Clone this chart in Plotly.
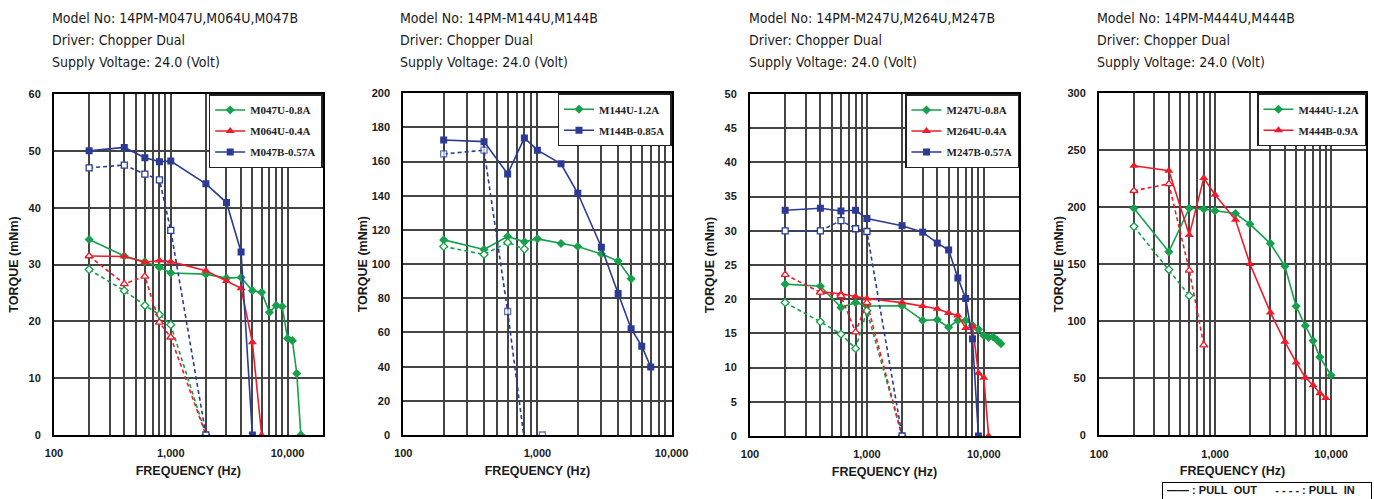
import plotly.graph_objects as go

# ---------------- data ----------------
# Chart 1: 14PM-M047U, M064U, M047B
c1_g_out_f = [200, 400, 600, 800, 1000, 2000, 3000, 4000, 5000, 6000, 7000, 8000, 9000, 10000, 11000, 12000, 13000]
c1_g_out_t = [34.4, 31.5, 30.5, 29.5, 28.5, 28.3, 27.6, 27.7, 25.4, 25.1, 21.6, 22.8, 22.6, 17.0, 16.6, 10.8, 0]
c1_g_in_f = [200, 400, 600, 800, 1000, 2000]
c1_g_in_t = [29.1, 25.4, 22.8, 21.2, 19.4, 0]
c1_r_out_f = [200, 400, 600, 800, 1000, 2000, 3000, 4000, 5000, 6000]
c1_r_out_t = [31.5, 31.4, 30.4, 30.7, 30.5, 28.9, 27.1, 25.8, 16.3, 0]
c1_r_in_f = [200, 400, 600, 800, 1000, 2000]
c1_r_in_t = [31.5, 26.6, 27.9, 19.8, 17.2, 0]
c1_b_out_f = [200, 400, 600, 800, 1000, 2000, 3000, 4000, 5000]
c1_b_out_t = [50.0, 50.6, 48.8, 48.1, 48.2, 44.2, 40.9, 32.2, 0]
c1_b_in_f = [200, 400, 600, 800, 1000, 2000]
c1_b_in_t = [47.0, 47.5, 45.9, 44.9, 36.0, 0]

# Chart 2: 14PM-M144U, M144B
c2_g_out_f = [200, 400, 600, 800, 1000, 1500, 2000, 3000, 4000, 5000]
c2_g_out_t = [114.2, 108.6, 116.2, 113.1, 114.8, 112.1, 110.3, 106.0, 101.8, 91.4]
c2_g_in_f = [200, 400, 600, 800]
c2_g_in_t = [110.3, 105.7, 112.7, 108.8]
c2_b_out_f = [200, 400, 600, 800, 1000, 1500, 2000, 3000, 4000, 5000, 6000, 7000]
c2_b_out_t = [172.7, 171.7, 152.8, 173.9, 166.7, 158.7, 141.5, 109.9, 82.8, 62.2, 52.0, 39.8]
c2_b_in_f = [200, 400, 600, 790, None, 1090]
c2_b_in_t = [164.5, 166.7, 72.3, 0, None, 0]
c2_b_in_marker = [True, True, True, False, False, True]

# Chart 3: 14PM-M247U, M264U, M247B
c3_g_out_f = [200, 400, 600, 800, 1000, 2000, 3000, 4000, 5000, 6000, 7000, 8000, 9000, 10000, 11000, 12000, 13000, 14000]
c3_g_out_t = [22.2, 21.9, 18.8, 19.5, 19.0, 19.05, 16.9, 17.0, 15.9, 16.9, 16.9, 16.2, 15.6, 14.7, 14.4, 14.5, 14.0, 13.5]
c3_g_in_f = [200, 400, 600, 800, 1000, 2000]
c3_g_in_t = [19.5, 16.7, 14.9, 12.8, 18.3, 0]
c3_r_out_f = [400, 600, 800, 1000, 2000, 3000, 4000, 5000, 6000, 7000, 8000, 9000, 10000, 11000]
c3_r_out_t = [21.1, 20.8, 20.4, 20.1, 19.5, 19.0, 18.6, 18.0, 17.6, 15.8, 16.0, 9.2, 8.5, 0]
c3_r_in_f = [200, 400, 600, 800, 1000, 2000]
c3_r_in_t = [23.6, 21.0, 20.5, 15.2, 19.5, 0]
c3_b_out_f = [200, 400, 600, 800, 1000, 2000, 3000, 4000, 5000, 6000, 7000, 8000, 9000]
c3_b_out_t = [33.0, 33.3, 32.9, 33.0, 31.8, 30.75, 29.8, 28.2, 27.2, 23.1, 20.1, 14.2, 0]
c3_b_in_f = [200, 400, 600, 800, 1000, 2000]
c3_b_in_t = [30.0, 30.0, 31.5, 30.3, 29.9, 0]

# Chart 4: 14PM-M444U, M444B
c4_g_out_f = [200, 400, 600, 800, 1000, 1500, 2000, 3000, 4000, 5000, 6000, 7000, 8000, 10000]
c4_g_out_t = [199.2, 160.9, 199.2, 198.4, 196.9, 194.5, 185.2, 168.2, 148.3, 113.1, 96.1, 82.9, 68.6, 52.7]
c4_g_in_f = [200, 400, 600]
c4_g_in_t = [183.1, 145.3, 122.5]
c4_r_out_f = [200, 400, 600, 800, 1000, 1500, 2000, 3000, 4000, 5000, 6000, 7000, 8000, 9000]
c4_r_out_t = [236.4, 232.1, 175.8, 225.6, 211.0, 189.0, 150.3, 107.8, 82.0, 63.9, 50.7, 43.9, 36.9, 32.8]
c4_r_in_f = [200, 400, 600, 800]
c4_r_in_t = [214.5, 220.6, 144.7, 79.1]

titles = [
    "Model No: 14PM-M047U,M064U,M047B",
    "Model No: 14PM-M144U,M144B",
    "Model No: 14PM-M247U,M264U,M247B",
    "Model No: 14PM-M444U,M444B",
]
subtitle_lines = ["Driver: Chopper Dual", "Supply Voltage: 24.0 (Volt)"]

legend_names = [
    ["M047U-0.8A", "M064U-0.4A", "M047B-0.57A"],
    ["M144U-1.2A", "M144B-0.85A"],
    ["M247U-0.8A", "M264U-0.4A", "M247B-0.57A"],
    ["M444U-1.2A", "M444B-0.9A"],
]

x_grid_long = [100, 200, 300, 400, 500, 600, 700, 800, 900,
               1000, 2000, 3000, 4000, 5000, 6000, 7000, 8000, 9000,
               10000, 20000]
x_grid_short = [100, 200, 300, 400, 500, 600, 700, 800, 900,
                1000, 2000, 3000, 4000, 5000, 6000, 7000, 8000, 9000,
                10000]
x_labels = {100: "100", 1000: "1,000", 10000: "10,000"}

y_max = [60, 200, 50, 300]
y_step = [10, 20, 5, 50]

# ---------------- styling / layout ----------------
W, H = 1374, 499
GREEN, RED, BLUE = "#17a04b", "#ec1c2a", "#2b3b95"
SANS = "Liberation Sans, Arial, sans-serif"
COND = "DejaVu Sans Condensed, DejaVu Sans, sans-serif"
SERIF = "Liberation Serif, Times New Roman, serif"
INK = "#1a1a1a"

# plot boxes in pixels: left, right, top, bottom
boxes = [
    (54, 322.7, 94, 435),
    (403.3, 671.5, 93.3, 435),
    (750, 1019, 94, 436),
    (1099, 1366, 93.3, 435.3),
]
title_x = [51, 399, 748, 1096]
title_line_y = [18, 40, 62]
x_ranges = [[2, 4.30103], [2, 4], [2, 4.30103], [2, 4.30103]]
x_grids = [x_grid_long, x_grid_short, x_grid_long, x_grid_long]
y_standoff = [7, 1, 7, 1]


def fx(px):
    return px / W


def fy(py):
    return 1 - py / H


fig = go.Figure()


def add_series(i, f, t, color, symbol, size, name, pullin, marker_on=None):
    ax = "" if i == 0 else str(i + 1)
    msize = size if marker_on is None else [size if m else 0 for m in marker_on]
    fig.add_trace(go.Scatter(
        x=f, y=t, mode="lines+markers", name=name,
        xaxis="x" + ax, yaxis="y" + ax,
        legend="legend" + ax, legendgroup=name,
        showlegend=not pullin, connectgaps=False,
        line=dict(color=color, width=1.6, dash="4px,3px" if pullin else "solid"),
        marker=dict(symbol=symbol, size=msize,
                    color="white" if pullin else color,
                    line=dict(color=color, width=1.3 if pullin else 0)),
    ))


series = [
    [(c1_g_out_f, c1_g_out_t, c1_g_in_f, c1_g_in_t, GREEN, "diamond", 7, None),
     (c1_r_out_f, c1_r_out_t, c1_r_in_f, c1_r_in_t, RED, "triangle-up", 8, None),
     (c1_b_out_f, c1_b_out_t, c1_b_in_f, c1_b_in_t, BLUE, "square", 7, None)],
    [(c2_g_out_f, c2_g_out_t, c2_g_in_f, c2_g_in_t, GREEN, "diamond", 7, None),
     (c2_b_out_f, c2_b_out_t, c2_b_in_f, c2_b_in_t, BLUE, "square", 7, c2_b_in_marker)],
    [(c3_g_out_f, c3_g_out_t, c3_g_in_f, c3_g_in_t, GREEN, "diamond", 7, None),
     (c3_r_out_f, c3_r_out_t, c3_r_in_f, c3_r_in_t, RED, "triangle-up", 8, None),
     (c3_b_out_f, c3_b_out_t, c3_b_in_f, c3_b_in_t, BLUE, "square", 7, None)],
    [(c4_g_out_f, c4_g_out_t, c4_g_in_f, c4_g_in_t, GREEN, "diamond", 7, None),
     (c4_r_out_f, c4_r_out_t, c4_r_in_f, c4_r_in_t, RED, "triangle-up", 8, None)],
]

for i, group in enumerate(series):
    for k, (fo, to, fi, ti, col, sym, sz, mk) in enumerate(group):
        add_series(i, fo, to, col, sym, sz, legend_names[i][k], False)
        add_series(i, fi, ti, col, sym, sz - 1, legend_names[i][k], True, mk)

layout = dict(
    width=W, height=H, margin=dict(l=0, r=0, t=0, b=0, autoexpand=False),
    paper_bgcolor="white", plot_bgcolor="white", showlegend=True,
    font=dict(family=SANS, color=INK),
)

annotations = []
for i, (l, r, t, b) in enumerate(boxes):
    ax = "" if i == 0 else str(i + 1)
    grid = x_grids[i]
    layout["xaxis" + ax] = dict(
        type="log", range=x_ranges[i], domain=[fx(l), fx(r)], anchor="y" + ax,
        tickmode="array", tickvals=grid, ticktext=[x_labels.get(v, "") for v in grid],
        showgrid=True, gridcolor="#444444", gridwidth=1.5, automargin=False,
        showline=True, linecolor="black", linewidth=2, mirror=True,
        ticks="", ticklabelstandoff=7, zeroline=False,
        tickfont=dict(family=SANS, size=11, weight="bold", color=INK),
        title=dict(text="FREQUENCY (Hz)", standoff=8,
                   font=dict(family=SANS, size=12.5, weight="bold", color=INK)),
    )
    layout["yaxis" + ax] = dict(
        range=[0, y_max[i]], dtick=y_step[i], tick0=0, domain=[fy(b), fy(t)], anchor="x" + ax,
        showgrid=True, gridcolor="#444444", gridwidth=1.5, automargin=False,
        showline=True, linecolor="black", linewidth=2, mirror=True,
        ticks="", ticklabelstandoff=9, zeroline=False,
        tickfont=dict(family=SANS, size=11, weight="bold", color=INK),
        title=dict(text="TORQUE (mNm)", standoff=y_standoff[i],
                   font=dict(family=SANS, size=12.5, weight="bold", color=INK)),
    )
    layout["legend" + ax] = dict(
        x=fx(r), xanchor="right", y=fy(t), yanchor="top",
        bgcolor="white", bordercolor="#222", borderwidth=1.5,
        font=dict(family=SERIF, size=11, weight="bold", color="#222"),
        tracegroupgap=2, itemwidth=30,
    )
    lines = [titles[i]] + subtitle_lines
    for txt, ly in zip(lines, title_line_y):
        annotations.append(dict(
            xref="paper", yref="paper", x=fx(title_x[i]), y=fy(ly),
            xanchor="left", yanchor="middle", align="left", showarrow=False,
            text=txt, borderpad=0,
            font=dict(family=COND, size=14, color=INK),
        ))

annotations.append(dict(
    xref="paper", yref="paper", x=fx(1162), y=fy(482), xanchor="left", yanchor="top",
    width=206, height=20, align="left", valign="top", showarrow=False,
    bordercolor="black", borderwidth=1, borderpad=1,
    text="&nbsp;—— : PULL&nbsp;&nbsp;OUT&nbsp;&nbsp;&nbsp;&nbsp;&nbsp;&nbsp;- - - - : PULL&nbsp;&nbsp;IN",
    font=dict(family=SANS, size=11, weight="bold", color=INK),
))
layout["annotations"] = annotations

fig.update_layout(**layout)
fig.write_html("out.html")
